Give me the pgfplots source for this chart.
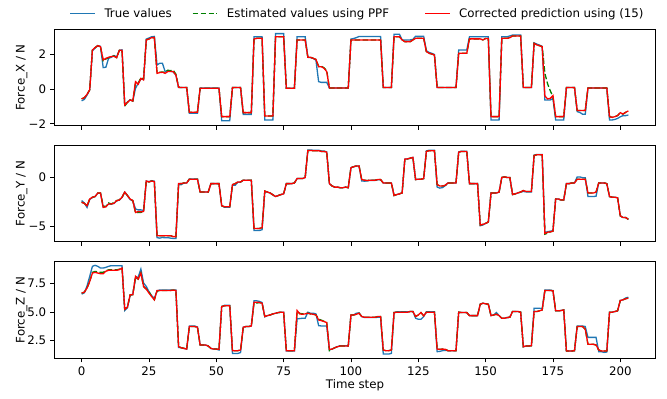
\documentclass[border=0pt]{standalone}
\usepackage{fontspec}
\setmainfont{DejaVu Sans}
\usepackage{pgfplots}
\usepackage{pgfplotstable}
\pgfplotsset{compat=1.18}
\definecolor{mblue}{HTML}{1F77B4}
\definecolor{mgreen}{HTML}{008000}
\definecolor{mred}{HTML}{FF0000}
% t  X:true est corr   Y:true est corr   Z:true est corr
\pgfplotstableread{
t xa xb xc ya yb yc za zb zc
0 -0.68 -0.57 -0.57 -2.36 -2.53 -2.53 6.59 6.68 6.68
1 -0.60 -0.50 -0.50 -2.60 -2.64 -2.64 6.70 6.76 6.76
2 -0.35 -0.31 -0.31 -3.05 -2.88 -2.88 7.30 7.12 7.12
3 -0.05 -0.05 -0.05 -2.25 -2.20 -2.20 8.15 7.70 7.70
4 2.20 2.24 2.24 -2.05 -2.02 -2.02 9.03 8.50 8.44
5 2.35 2.38 2.38 -1.95 -1.95 -1.95 9.12 8.58 8.50
6 2.49 2.49 2.49 -1.62 -1.60 -1.60 9.03 8.55 8.44
7 2.45 2.43 2.43 -1.62 -1.60 -1.60 8.88 8.50 8.38
8 1.23 1.62 1.67 -3.00 -2.90 -3.05 8.88 8.50 8.38
9 1.25 1.72 1.76 -2.95 -2.98 -2.98 8.94 8.65 8.60
10 1.76 1.80 1.82 -2.70 -2.60 -2.70 9.03 8.72 8.68
11 1.82 1.86 1.86 -2.72 -2.70 -2.70 9.09 8.72 8.68
12 1.92 1.90 1.88 -2.64 -2.55 -2.64 9.09 8.72 8.68
13 1.85 1.80 1.80 -2.40 -2.36 -2.36 9.09 8.72 8.68
14 2.22 2.22 2.22 -2.30 -2.30 -2.30 9.09 8.78 8.74
15 2.25 2.22 2.22 -2.05 -2.02 -2.02 9.09 8.90 8.88
16 -0.92 -0.98 -0.92 -1.50 -1.50 -1.50 5.15 5.26 5.26
17 -0.75 -0.77 -0.77 -1.85 -1.85 -1.85 5.40 5.44 5.44
18 -0.62 -0.63 -0.63 -2.25 -2.20 -2.20 6.45 6.53 6.53
19 -0.69 -0.69 -0.69 -2.40 -2.36 -2.36 6.60 6.53 6.53
20 0.04 0.35 0.42 -3.20 -3.60 -3.56 7.94 8.15 8.15
21 0.33 0.32 0.27 -3.30 -3.55 -3.46 8.10 7.91 7.91
22 0.57 0.65 0.61 -3.30 -3.55 -3.50 8.79 8.44 8.44
23 0.55 0.58 0.52 -3.35 -3.46 -3.46 7.56 7.26 7.26
24 2.87 2.82 2.82 -0.40 -0.38 -0.38 7.26 7.03 7.03
25 2.93 2.87 2.87 -0.45 -0.48 -0.48 6.80 6.80 6.68
26 3.00 2.95 2.95 -0.35 -0.38 -0.38 6.45 6.38 6.38
27 3.02 2.95 2.95 -0.40 -0.45 -0.45 6.20 6.09 6.09
28 1.38 0.93 0.90 -6.10 -5.90 -5.90 6.88 6.85 6.91
29 1.48 0.96 0.94 -6.15 -5.90 -5.90 6.95 6.91 6.91
30 1.48 0.98 0.96 -6.08 -5.90 -5.90 6.95 6.91 6.91
31 1.00 0.95 0.90 -6.12 -5.90 -5.90 6.95 6.91 6.91
32 1.05 1.08 1.00 -6.10 -5.90 -5.90 6.95 6.91 6.91
33 1.02 1.05 1.00 -6.15 -5.90 -5.90 6.95 6.91 6.91
34 0.98 1.08 1.00 -6.18 -6.00 -6.00 6.95 6.94 6.94
35 0.80 0.85 0.80 -6.18 -6.00 -6.00 6.95 6.91 6.91
36 0.08 0.10 0.10 -0.75 -0.65 -0.65 1.90 1.97 1.97
37 0.08 0.08 0.08 -0.75 -0.65 -0.65 1.88 1.88 1.88
38 0.08 0.08 0.08 -0.58 -0.58 -0.58 1.82 1.82 1.82
39 0.08 0.08 0.08 -0.58 -0.58 -0.58 1.76 1.76 1.76
40 -1.40 -1.34 -1.34 -0.18 -0.20 -0.20 3.78 3.74 3.74
41 -1.40 -1.34 -1.34 -0.18 -0.20 -0.20 3.78 3.74 3.74
42 -1.40 -1.34 -1.34 -0.18 -0.20 -0.20 3.78 3.74 3.74
43 -1.40 -1.34 -1.34 -0.18 -0.20 -0.20 3.70 3.68 3.68
44 0.06 0.04 0.04 -1.50 -1.50 -1.50 2.12 2.12 2.12
45 0.06 0.04 0.04 -1.50 -1.50 -1.50 2.12 2.12 2.12
46 0.06 0.04 0.04 -1.50 -1.50 -1.50 2.12 2.12 2.12
47 0.06 0.04 0.04 -1.50 -1.50 -1.50 2.03 2.03 2.03
48 0.06 0.04 0.04 -0.65 -0.65 -0.65 1.82 1.82 1.82
49 0.06 0.04 0.04 -0.65 -0.65 -0.65 1.76 1.76 1.76
50 0.06 0.04 0.04 -0.65 -0.65 -0.65 1.76 1.76 1.76
51 0.06 0.04 0.04 -0.65 -0.65 -0.65 1.68 1.74 1.74
52 -1.82 -1.59 -1.59 -2.88 -2.88 -2.88 5.50 5.50 5.50
53 -1.82 -1.59 -1.59 -3.02 -2.98 -2.98 5.60 5.56 5.56
54 -1.82 -1.59 -1.59 -3.02 -2.98 -2.98 5.60 5.56 5.56
55 -1.82 -1.59 -1.59 -3.02 -2.98 -2.98 5.60 5.56 5.56
56 0.08 0.08 0.08 -0.80 -0.75 -0.75 1.38 1.62 1.62
57 0.08 0.08 0.08 -0.82 -0.65 -0.65 1.38 1.62 1.62
58 0.08 0.08 0.08 -0.50 -0.48 -0.48 1.38 1.62 1.62
59 0.08 0.08 0.08 -0.50 -0.48 -0.48 1.45 1.68 1.68
60 -1.46 -1.36 -1.36 -0.30 -0.30 -0.30 3.68 3.68 3.68
61 -1.46 -1.36 -1.36 -0.30 -0.30 -0.30 3.74 3.74 3.74
62 -1.46 -1.36 -1.36 -0.30 -0.30 -0.30 3.74 3.74 3.74
63 -1.46 -1.36 -1.36 -0.30 -0.30 -0.30 3.79 3.79 3.79
64 3.00 2.87 2.87 -5.38 -5.17 -5.17 6.00 5.80 5.88
65 3.00 2.91 2.91 -5.38 -5.17 -5.17 6.00 5.80 5.88
66 3.00 2.91 2.91 -5.38 -5.17 -5.17 5.95 5.85 5.85
67 3.00 2.91 2.91 -5.30 -5.10 -5.10 5.85 5.79 5.79
68 -1.78 -1.55 -1.55 -1.45 -1.40 -1.40 4.60 4.62 4.62
69 -1.78 -1.55 -1.55 -1.50 -1.50 -1.50 4.70 4.70 4.70
70 -1.78 -1.55 -1.55 -1.60 -1.60 -1.60 4.76 4.76 4.76
71 -1.78 -1.55 -1.55 -1.78 -1.78 -1.78 4.85 4.85 4.85
72 3.18 3.00 3.00 -1.95 -1.95 -1.95 4.91 4.91 4.91
73 3.18 3.00 3.00 -1.85 -1.85 -1.85 4.97 4.97 4.97
74 3.18 3.00 3.00 -1.75 -1.75 -1.75 5.00 5.00 5.00
75 3.18 3.00 3.00 -1.68 -1.68 -1.68 5.00 5.00 5.00
76 0.04 0.04 0.04 -0.65 -0.65 -0.65 1.60 1.62 1.62
77 0.04 0.04 0.04 -0.65 -0.65 -0.65 1.60 1.62 1.62
78 0.04 0.04 0.04 -0.65 -0.65 -0.65 1.60 1.62 1.62
79 0.04 0.04 0.04 -0.58 -0.58 -0.58 1.60 1.62 1.62
80 3.00 2.82 2.82 -0.14 -0.14 -0.14 4.41 5.05 5.15
81 3.00 2.82 2.82 -0.14 -0.14 -0.14 4.44 4.90 4.85
82 3.00 2.82 2.82 -0.14 -0.14 -0.14 4.47 4.85 4.82
83 3.00 2.82 2.82 -0.03 -0.03 -0.03 4.47 4.88 4.85
84 1.82 1.82 1.82 2.75 2.70 2.70 5.00 4.91 4.91
85 1.80 1.82 1.82 2.75 2.70 2.70 4.91 4.85 4.85
86 1.76 1.76 1.76 2.72 2.67 2.67 4.91 4.82 4.82
87 1.65 1.70 1.70 2.72 2.67 2.67 4.85 4.76 4.76
88 0.42 1.30 1.28 2.72 2.67 2.67 3.82 4.40 4.32
89 0.38 1.30 1.28 2.65 2.60 2.60 3.79 4.30 4.26
90 0.38 1.22 1.19 2.65 2.60 2.60 3.79 4.20 4.18
91 0.38 1.05 1.00 2.55 2.53 2.53 3.79 4.10 4.09
92 0.06 0.06 0.06 -0.65 -0.65 -0.65 1.70 1.62 1.74
93 0.06 0.06 0.06 -0.89 -0.89 -0.89 1.76 1.76 1.76
94 0.06 0.06 0.06 -1.02 -1.00 -1.00 1.88 1.88 1.88
95 0.06 0.06 0.06 -1.02 -1.00 -1.00 1.97 1.97 1.97
96 0.06 0.06 0.06 -1.06 -1.06 -1.06 2.06 2.03 2.03
97 0.06 0.06 0.06 -1.06 -1.06 -1.06 2.06 2.03 2.03
98 0.06 0.06 0.06 -1.00 -1.00 -1.00 2.06 2.03 2.03
99 0.06 0.06 0.06 -1.06 -1.06 -1.06 2.06 2.03 2.03
100 2.87 2.82 2.82 0.96 0.96 0.96 4.76 4.76 4.76
101 2.90 2.82 2.82 1.06 1.06 1.06 4.76 4.76 4.76
102 2.95 2.82 2.82 1.13 1.13 1.13 4.91 4.82 4.82
103 3.02 2.82 2.82 1.13 1.13 1.13 4.94 4.91 4.91
104 3.02 2.82 2.82 -0.38 -0.24 -0.24 4.62 4.62 4.62
105 3.02 2.82 2.82 -0.40 -0.30 -0.30 4.53 4.56 4.56
106 3.02 2.82 2.82 -0.38 -0.34 -0.34 4.53 4.56 4.56
107 3.02 2.82 2.82 -0.32 -0.30 -0.30 4.53 4.56 4.56
108 3.02 2.82 2.82 -0.32 -0.30 -0.30 4.53 4.56 4.56
109 3.02 2.82 2.82 -0.32 -0.30 -0.30 4.53 4.56 4.56
110 3.02 2.82 2.82 -0.26 -0.24 -0.24 4.56 4.62 4.62
111 3.02 2.82 2.82 -0.26 -0.24 -0.24 4.56 4.62 4.62
112 0.08 0.08 0.08 -0.58 -0.58 -0.58 1.32 1.68 1.68
113 0.08 0.08 0.08 -0.58 -0.58 -0.58 1.32 1.62 1.62
114 0.08 0.08 0.08 -0.58 -0.58 -0.58 1.32 1.62 1.62
115 0.08 0.08 0.08 -0.58 -0.58 -0.58 1.38 1.68 1.68
116 3.15 3.00 3.00 -1.85 -1.85 -1.85 4.97 4.97 4.97
117 3.15 3.00 3.00 -1.75 -1.75 -1.75 5.03 5.00 5.00
118 3.15 3.00 3.00 -1.68 -1.68 -1.68 5.03 5.00 5.00
119 2.82 2.82 2.82 -1.58 -1.58 -1.58 5.03 5.00 5.00
120 2.82 2.72 2.72 1.82 1.82 1.82 5.03 5.00 5.00
121 2.82 2.72 2.72 1.85 1.85 1.85 5.03 5.00 5.00
122 2.82 2.72 2.72 1.92 1.92 1.92 5.06 5.06 5.06
123 2.85 2.82 2.82 2.00 2.00 2.00 5.06 5.06 5.06
124 3.03 2.91 2.91 -0.24 -0.24 -0.24 4.47 4.62 4.62
125 3.03 2.91 2.91 -0.20 -0.20 -0.20 4.38 4.76 4.76
126 3.03 2.91 2.91 -0.20 -0.20 -0.20 4.38 4.97 4.97
127 3.03 2.91 2.91 -0.14 -0.14 -0.14 4.62 4.68 4.68
128 2.20 2.15 2.15 2.65 2.60 2.60 5.03 5.00 5.00
129 2.10 2.05 2.05 2.72 2.67 2.67 5.03 5.00 5.00
130 2.05 2.01 2.01 2.72 2.67 2.67 5.03 5.00 5.00
131 1.98 1.95 1.95 2.72 2.67 2.67 5.03 5.00 5.00
132 0.08 0.08 0.08 -1.00 -0.75 -0.75 1.53 1.76 1.76
133 0.08 0.08 0.08 -1.10 -0.89 -0.89 1.56 1.74 1.74
134 0.08 0.08 0.08 -1.05 -0.89 -0.89 1.62 1.76 1.76
135 0.08 0.08 0.08 -0.85 -0.82 -0.82 1.65 1.74 1.74
136 0.08 0.08 0.08 -0.58 -0.58 -0.58 1.62 1.62 1.62
137 0.08 0.08 0.08 -0.58 -0.58 -0.58 1.62 1.62 1.62
138 0.08 0.08 0.08 -0.58 -0.58 -0.58 1.62 1.62 1.62
139 0.08 0.08 0.08 -0.58 -0.58 -0.58 1.62 1.62 1.62
140 2.24 2.05 2.05 2.55 2.53 2.53 5.00 5.00 5.00
141 2.24 2.05 2.05 2.62 2.60 2.60 4.97 4.97 4.97
142 2.24 2.05 2.05 2.62 2.60 2.60 4.97 4.97 4.97
143 2.24 2.05 2.05 2.62 2.60 2.60 4.97 4.97 4.97
144 3.00 2.88 2.88 -0.65 -0.65 -0.65 4.70 4.70 4.70
145 3.00 2.88 2.88 -0.65 -0.65 -0.65 4.70 4.70 4.70
146 3.00 2.88 2.88 -0.65 -0.65 -0.65 4.70 4.70 4.70
147 3.00 2.88 2.88 -0.65 -0.65 -0.65 4.70 4.70 4.70
148 3.00 2.88 2.88 -4.90 -4.83 -4.83 5.70 5.70 5.70
149 3.00 2.82 2.82 -4.82 -4.76 -4.76 5.79 5.79 5.79
150 3.00 2.90 2.90 -4.66 -4.66 -4.66 5.74 5.74 5.74
151 3.00 2.90 2.90 -4.52 -4.52 -4.52 5.70 5.70 5.70
152 -1.78 -1.59 -1.59 -1.60 -1.60 -1.60 4.70 4.70 4.70
153 -1.78 -1.59 -1.59 -1.60 -1.60 -1.60 4.76 4.76 4.76
154 -1.78 -1.59 -1.59 -1.60 -1.60 -1.60 4.97 4.82 4.82
155 -1.78 -1.59 -1.59 -1.50 -1.50 -1.50 4.70 4.70 4.70
156 3.00 2.91 2.91 -0.03 -0.03 -0.03 4.47 4.47 4.47
157 3.00 2.91 2.91 0.03 0.03 0.03 4.47 4.47 4.47
158 3.00 2.91 2.91 -0.03 -0.03 -0.03 4.53 4.53 4.53
159 3.05 2.95 2.95 -0.03 -0.03 -0.03 4.56 4.56 4.56
160 3.10 3.05 3.05 -1.75 -1.75 -1.75 5.06 5.06 5.06
161 3.10 3.05 3.05 -1.68 -1.68 -1.68 5.06 5.06 5.06
162 3.10 3.05 3.05 -1.58 -1.58 -1.58 5.06 5.06 5.06
163 3.10 3.05 3.05 -1.50 -1.50 -1.50 5.00 5.00 5.00
164 0.08 0.08 0.08 -1.44 -1.34 -1.34 1.97 1.97 1.97
165 0.08 0.08 0.08 -1.48 -1.44 -1.44 2.03 2.03 2.03
166 0.08 0.08 0.08 -1.48 -1.44 -1.44 2.03 2.03 2.03
167 0.08 0.08 0.08 -1.48 -1.44 -1.44 2.06 2.06 2.06
168 2.65 2.62 2.62 2.22 2.19 2.19 5.35 5.06 5.06
169 2.58 2.53 2.53 2.30 2.26 2.26 5.35 5.06 5.06
170 2.52 2.49 2.49 2.30 2.26 2.26 5.35 5.12 5.12
171 2.45 2.43 2.43 2.30 2.26 2.26 5.30 5.20 5.20
172 -0.63 0.90 -0.40 -5.60 -5.75 -5.68 6.94 6.91 6.91
173 -0.63 0.30 -0.57 -5.50 -5.65 -5.55 6.94 6.91 6.91
174 -0.63 -0.10 -0.54 -5.45 -5.52 -5.52 6.94 6.91 6.91
175 -0.55 -0.44 -0.38 -5.40 -5.45 -5.45 6.90 6.88 6.88
176 -1.78 -1.59 -1.59 -2.20 -2.20 -2.20 5.12 5.12 5.12
177 -1.78 -1.59 -1.59 -2.20 -2.20 -2.20 5.12 5.12 5.12
178 -1.78 -1.59 -1.59 -2.30 -2.30 -2.30 5.15 5.15 5.15
179 -1.78 -1.59 -1.59 -2.30 -2.30 -2.30 5.20 5.20 5.20
180 0.08 0.08 0.08 -0.65 -0.65 -0.65 1.59 1.59 1.59
181 0.08 0.08 0.08 -0.65 -0.65 -0.65 1.59 1.59 1.59
182 0.08 0.08 0.08 -0.58 -0.58 -0.58 1.59 1.59 1.59
183 0.08 0.08 0.08 -0.58 -0.58 -0.58 1.62 1.62 1.62
184 -1.30 -1.24 -1.24 0.03 -0.20 -0.20 3.79 3.74 3.74
185 -1.35 -1.24 -1.24 0.03 -0.20 -0.20 3.79 3.74 3.74
186 -1.45 -1.24 -1.24 -0.05 -0.20 -0.20 3.79 3.74 3.74
187 -1.45 -1.24 -1.24 -0.05 -0.20 -0.20 3.74 3.50 3.50
188 0.06 0.06 0.06 -1.95 -1.58 -1.58 2.79 2.18 2.18
189 0.06 0.06 0.06 -1.95 -1.60 -1.60 2.79 2.18 2.18
190 0.06 0.06 0.06 -1.95 -1.60 -1.60 2.79 2.18 2.18
191 0.06 0.06 0.06 -1.92 -1.50 -1.50 2.79 2.12 2.12
192 0.06 0.06 0.06 -0.58 -0.58 -0.58 1.53 1.68 1.68
193 0.06 0.06 0.06 -0.58 -0.58 -0.58 1.53 1.59 1.59
194 0.06 0.06 0.06 -0.58 -0.58 -0.58 1.47 1.59 1.59
195 0.06 0.06 0.06 -0.65 -0.65 -0.65 1.50 1.59 1.59
196 -1.78 -1.59 -1.59 -1.95 -1.95 -1.95 5.00 5.00 5.00
197 -1.78 -1.63 -1.63 -2.02 -2.02 -2.02 5.00 5.00 5.00
198 -1.75 -1.59 -1.59 -2.02 -2.02 -2.02 5.06 5.06 5.06
199 -1.69 -1.53 -1.53 -2.08 -2.08 -2.08 5.12 5.12 5.12
200 -1.60 -1.36 -1.36 -3.90 -3.90 -3.90 6.03 6.03 6.03
201 -1.53 -1.44 -1.44 -4.07 -4.07 -4.07 6.09 6.09 6.09
202 -1.53 -1.34 -1.34 -4.07 -4.07 -4.07 6.25 6.18 6.18
203 -1.50 -1.26 -1.26 -4.25 -4.25 -4.25 6.32 6.24 6.24
}\data

\pgfplotsset{
  panel/.style={
    scale only axis, width=601.4pt, height=96.4pt,
    xmin=-10.15, xmax=213.15, xtick={0,25,...,200},
    tick align=outside, xtick pos=bottom, ytick pos=left,
    major tick length=4.1pt,
    every tick/.style={black, line width=0.8pt},
    axis line style={line width=0.8pt, black},
    /pgf/number format/assume math mode=true,
    every axis y label/.style={at={(axis description cs:0,0.5)}, xshift=-32.6pt, rotate=90, anchor=center},
    every axis x label/.style={at={(axis description cs:0.5,0)}, yshift=-26.7pt, anchor=center},
  },
}
\tikzset{
  tru/.style={mblue, line width=1.3pt},
  est/.style={mgreen, line width=1.3pt, dash pattern=on 5.5pt off 2.4pt},
  cor/.style={mred, line width=1.3pt},
}

\begin{document}
\fontsize{11.8}{14}\selectfont
\begin{tikzpicture}[font=\fontsize{11.8}{14}\selectfont]
\path[use as bounding box] (0,0) rectangle (667pt,399pt);

% legend (matplotlib style, no frame)
\draw[tru] (70pt,385.2pt) -- (94.5pt,385.2pt);
\node[anchor=base west, inner sep=0pt] at (104.3pt,381.4pt) {True values};
\draw[est] (192.7pt,385.2pt) -- (217.2pt,385.2pt);
\node[anchor=base west, inner sep=0pt] at (226.7pt,381.4pt) {Estimated values using PPF};
\draw[cor] (425pt,385.2pt) -- (449.5pt,385.2pt);
\node[anchor=base west, inner sep=0pt] at (459pt,381.4pt) {Corrected prediction using (15)};

\begin{axis}[panel, at={(54.3pt,273.3pt)}, anchor=south west,
  ymin=-2.11, ymax=3.43, ytick={-2,0,2}, yticklabels={−2,0,2},
  xticklabels={}, ylabel={Force\_X / N}]
\addplot[tru] table[x=t, y=xa] {\data};
\addplot[est] table[x=t, y=xb] {\data};
\addplot[cor] table[x=t, y=xc] {\data};
\end{axis}

\begin{axis}[panel, at={(54.3pt,157.3pt)}, anchor=south west,
  ymin=-6.51, ymax=3.22, ytick={-5,0}, yticklabels={−5,0},
  xticklabels={}, ylabel={Force\_Y / N}]
\addplot[tru] table[x=t, y=ya] {\data};
\addplot[est] table[x=t, y=yb] {\data};
\addplot[cor] table[x=t, y=yc] {\data};
\end{axis}

\begin{axis}[panel, at={(54.3pt,40.7pt)}, anchor=south west,
  ymin=0.95, ymax=9.42, ytick={2.5,5,7.5}, yticklabels={2.5,5.0,7.5},
  ylabel={Force\_Z / N}, xlabel={Time step}]
\addplot[tru] table[x=t, y=za] {\data};
\addplot[est] table[x=t, y=zb] {\data};
\addplot[cor] table[x=t, y=zc] {\data};
\end{axis}
\end{tikzpicture}
\end{document}
